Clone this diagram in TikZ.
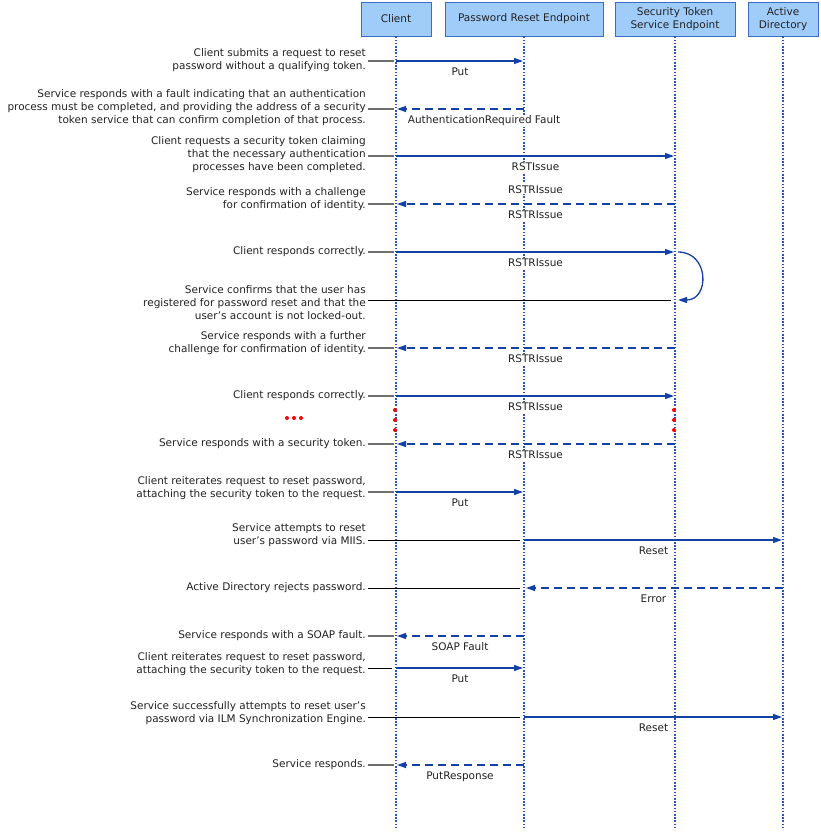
\documentclass[tikz,border=0pt]{standalone}
\usepackage{fontspec}
\setmainfont{DejaVu Sans}
\usetikzlibrary{arrows.meta}
\definecolor{box_fill}{RGB}{160,204,250}
\definecolor{box_edge}{RGB}{60,108,200}
\definecolor{msg_blue}{RGB}{20,65,165}
\definecolor{life_blue}{RGB}{40,85,190}
\definecolor{lead_gray}{RGB}{110,110,110}
\definecolor{text_gray}{RGB}{34,34,34}

\begin{document}
\begin{tikzpicture}[x=1pt,y=-1pt,>={Triangle[length=9pt,width=6pt]},font=\fontsize{10.5}{13}\selectfont]
    \tikzstyle{actor}=[draw=box_edge, fill=box_fill, thick, minimum height=34pt, align=center, text=text_gray, inner sep=1pt]
    \tikzstyle{life}=[life_blue, line width=1.2pt, dash pattern=on 1.6pt off 1.6pt]
    \tikzstyle{msg}=[->, msg_blue, line width=1.3pt, shorten >=1pt]
    \tikzstyle{reply}=[msg, dash pattern=on 8pt off 5pt]
    \tikzstyle{lbl}=[fill=white, text=text_gray, inner sep=1pt]
    \tikzstyle{desc}=[anchor=east, align=right, text=text_gray, inner sep=0pt]
    \tikzstyle{lead}=[lead_gray, line width=1.2pt, shorten <=2pt, shorten >=2pt]
    \tikzstyle{leadb}=[black, line width=0.8pt, shorten <=2pt, shorten >=4pt]
    \tikzstyle{dot}=[red]

    \useasboundingbox (0,0) rectangle (820,832);

    % actors
    \node[actor, minimum width=70pt]  (client) at (396,19) {Client};
    \node[actor, minimum width=158pt] (pre)    at (524,19) {Password Reset Endpoint};
    \node[actor, minimum width=120pt] (sts)    at (675,19) {Security Token\\Service Endpoint};
    \node[actor, minimum width=70pt]  (ad)     at (783,19) {Active\\Directory};

    % rows
    \foreach \y [count=\i] in {61,109,156,204,252,300,348,396,444,492,540,588,636,668,717,765,830}
        \coordinate (r\i) at (0,\y);

    % lifelines
    \foreach \a in {client,pre,sts,ad}
        \draw[life] (\a.south) -- (\a |- r17);

    % descriptions
    \node[desc] (d1)  at (366,60)    {Client submits a request to reset\\password without a qualifying token.};
    \node[desc] (d2)  at (366,108)   {Service responds with a fault indicating that an authentication\\process must be completed, and providing the address of a security\\token service that can confirm completion of that process.};
    \node[desc] (d3)  at (366,155)   {Client requests a security token claiming\\that the necessary authentication\\processes have been completed.};
    \node[desc] (d4)  at (366,199.5) {Service responds with a challenge\\for confirmation of identity.};
    \node[desc] (d5)  at (366,252)   {Client responds correctly.};
    \node[desc] (d6)  at (366,303)   {Service confirms that the user has\\registered for password reset and that the\\user’s account is not locked-out.};
    \node[desc] (d7)  at (366,343.5) {Service responds with a further\\challenge for confirmation of identity.};
    \node[desc] (d8)  at (366,396)   {Client responds correctly.};
    \node[desc] (d9)  at (366,444)   {Service responds with a security token.};
    \node[desc] (d10) at (366,488.5) {Client reiterates request to reset password,\\attaching the security token to the request.};
    \node[desc] (d11) at (366,535.5) {Service attempts to reset\\user’s password via MIIS.};
    \node[desc] (d12) at (366,588)   {Active Directory rejects password.};
    \node[desc] (d13) at (366,636)   {Service responds with a SOAP fault.};
    \node[desc] (d14) at (366,664.5) {Client reiterates request to reset password,\\attaching the security token to the request.};
    \node[desc] (d15) at (366,713.5) {Service successfully attempts to reset user’s\\password via ILM Synchronization Engine.};
    \node[desc] (d16) at (366,765)   {Service responds.};

    % leaders
    \foreach \i in {1,2,3,4,5,7,8,9,10,13,16}
        \draw[lead] (d\i.east |- r\i) -- (client |- r\i);
    \draw[leadb] (d14.east |- r14) -- (client |- r14);
    \draw[leadb] (d6.east |- r6) -- (sts |- r6);
    \foreach \i in {11,12,15}
        \draw[leadb] (d\i.east |- r\i) -- (pre |- r\i);

    % messages
    \draw[msg]   (client |- r1) -- node[lbl, below=5pt] {Put} (pre |- r1);
    \draw[reply] (pre |- r2) -- node[lbl, below=5pt, xshift=24pt] {AuthenticationRequired Fault} (client |- r2);
    \draw[msg]   (client |- r3) -- node[lbl, below=5pt] {RSTIssue} (sts |- r3);
    \draw[reply] (sts |- r4) -- node[lbl, above=9pt] {RSTRIssue} node[lbl, below=5pt] {RSTRIssue} (client |- r4);
    \draw[msg]   (client |- r5) -- node[lbl, below=5pt] {RSTRIssue} (sts |- r5);
    \draw[msg, shorten <=3pt, shorten >=3pt] (sts |- r5) to[out=0, in=0, looseness=1.85] (sts |- r6);
    \draw[reply] (sts |- r7) -- node[lbl, below=5pt] {RSTRIssue} (client |- r7);
    \draw[msg]   (client |- r8) -- node[lbl, below=5pt] {RSTRIssue} (sts |- r8);
    \draw[reply] (sts |- r9) -- node[lbl, below=5pt] {RSTRIssue} (client |- r9);
    \draw[msg]   (client |- r10) -- node[lbl, below=5pt] {Put} (pre |- r10);
    \draw[msg]   (pre |- r11) -- node[lbl, below=5pt] {Reset} (ad |- r11);
    \draw[reply, shorten >=2pt] (ad |- r12) -- node[lbl, below=5pt] {Error} (pre |- r12);
    \draw[reply] (pre |- r13) -- node[lbl, below=5pt] {SOAP Fault} (client |- r13);
    \draw[msg]   (client |- r14) -- node[lbl, below=5pt] {Put} (pre |- r14);
    \draw[msg]   (pre |- r15) -- node[lbl, below=5pt] {Reset} (ad |- r15);
    \draw[reply] (pre |- r16) -- node[lbl, below=5pt] {PutResponse} (client |- r16);

    % ellipsis
    \foreach \y in {410,420,430} {
        \fill[dot] (395,\y) circle[radius=2pt];
        \fill[dot] (674,\y) circle[radius=2pt];
    }
    \foreach \x in {287,294,301}
        \fill[dot] (\x,418) circle[radius=2pt];
\end{tikzpicture}
\end{document}
